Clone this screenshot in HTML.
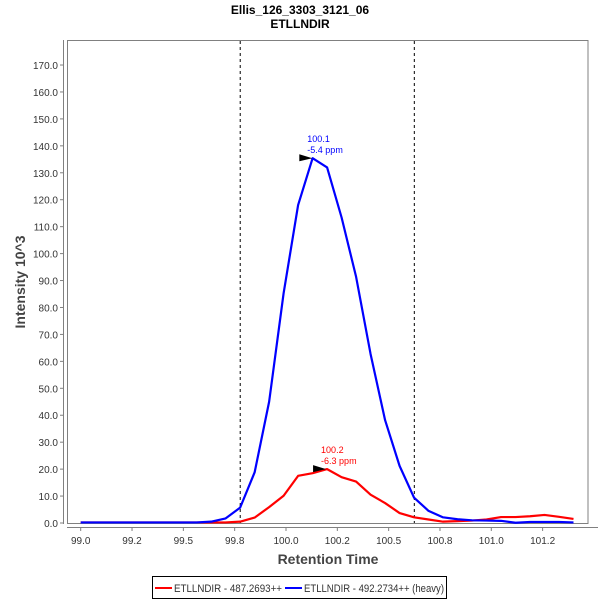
<!DOCTYPE html>
<html><head><meta charset="utf-8"><style>
body{margin:0;background:#fff;}
svg{display:block;font-family:"Liberation Sans",sans-serif;}
</style></head><body>
<svg id="chart" width="600" height="600" viewBox="0 0 600 600">
<text x="300" y="14" text-anchor="middle" font-size="12" font-weight="bold">Ellis_126_3303_3121_06</text>
<text x="300" y="28" text-anchor="middle" font-size="12" font-weight="bold">ETLLNDIR</text>
<rect x="67.5" y="40.5" width="520.5" height="483" fill="#fff" stroke="#808080"/>
<line x1="63.5" y1="40" x2="63.5" y2="524" stroke="#808080"/>
<line x1="67" y1="527.5" x2="598" y2="527.5" stroke="#808080"/>
<g id="yticks"></g><g id="xticks"></g><g id="marks"></g>
<text x="328" y="564" text-anchor="middle" font-size="14" font-weight="bold" fill="#444">Retention Time</text>
<text transform="translate(25,282) rotate(-90)" text-anchor="middle" font-size="14" font-weight="bold" fill="#444">Intensity 10^3</text>
<g>
<rect x="152.5" y="576.5" width="294" height="22" fill="#fff" stroke="#000"/>
<line x1="155" y1="588" x2="172" y2="588" stroke="#f00" stroke-width="2"/>
<text x="174" y="592" font-size="11" fill="#333" textLength="108" lengthAdjust="spacingAndGlyphs">ETLLNDIR - 487.2693++</text>
<line x1="285" y1="588" x2="302" y2="588" stroke="#00f" stroke-width="2"/>
<text x="304" y="592" font-size="11" fill="#333" textLength="140" lengthAdjust="spacingAndGlyphs">ETLLNDIR - 492.2734++ (heavy)</text>
</g>
</svg>
<script>
const times = [];
for (let i = 0; i < 35; i++) times.push(99.0 + i * 0.0706);
const heavyValues = [0.2,0.2,0.2,0.2,0.2,0.2,0.2,0.2,0.2,0.5,1.7,5.7,18.8,45,85.3,118,135.4,132,113.4,91.4,62.7,38.2,21.2,9.4,4.5,2.1,1.4,1.0,0.9,0.8,0.1,0.4,0.4,0.4,0.2];
const lightValues = [0.2,0.2,0.2,0.2,0.2,0.2,0.2,0.2,0.2,0.2,0.2,0.5,2.0,5.9,10.1,17.5,18.5,20.0,17.0,15.4,10.5,7.4,3.7,2.1,1.3,0.5,0.7,0.9,1.3,2.2,2.2,2.5,3.0,2.3,1.5];
const yTicks = [0,10,20,30,40,50,60,70,80,90,100,110,120,130,140,150,160,170];
const xTickValues = [99.0,99.25,99.5,99.75,100.0,100.25,100.5,100.75,101.0,101.25];
const xTickLabels = ["99.0","99.2","99.5","99.8","100.0","100.2","100.5","100.8","101.0","101.2"];
const boundaries = [99.777, 100.625];
const peaks = [{t:100.133, v:135.4, label:"100.1", ppm:"-5.4 ppm", color:"#00f", name:"heavy"},
               {t:100.2, v:20.0, label:"100.2", ppm:"-6.3 ppm", color:"#f00", name:"light"}];
const NS = "http://www.w3.org/2000/svg";
const X = v => 80.7 + (v - 99.0) * 205.3;
const Y = v => 523 - v * 2.694;
function mk(tag, attrs, parent){ const e=document.createElementNS(NS,tag); for(const k in attrs) e.setAttribute(k,attrs[k]); parent.appendChild(e); return e; }
const yt=document.getElementById('yticks'), xt=document.getElementById('xticks'), mg=document.getElementById('marks');
yTicks.forEach(v=>{
  const l=mk('line',{x1:60,x2:63.5,y1:Y(v),y2:Y(v),stroke:'#808080'},yt);
  
  
  const t=mk('text',{x:58,y:Y(v)+4,'text-anchor':'end','font-size':10,fill:'#333'},yt);
  t.textContent=v.toFixed(1);
  
  
});
xTickValues.forEach((v,i)=>{
  const l=mk('line',{x1:X(v),x2:X(v),y1:527.5,y2:531,stroke:'#808080'},xt);
  
  
  const t=mk('text',{x:X(v),y:544,'text-anchor':'middle','font-size':10,fill:'#333'},xt);
  t.textContent=xTickLabels[i];
  
  
});
boundaries.forEach(b=>{
  const l=mk('line',{x1:X(b),x2:X(b),y1:41,y2:523,stroke:'#000','stroke-dasharray':'3,3','stroke-width':1},mg);
  
  
});
function series(vals,color,name){
  const p=mk('polyline',{points:vals.map((v,i)=>X(times[i])+','+Y(v)).join(' '),fill:'none',stroke:color,'stroke-width':2.2,'stroke-linejoin':'round'},mg);
  
  
}
series(lightValues,'#f00','series-light');
series(heavyValues,'#00f','series-heavy');
peaks.forEach(pk=>{
  const x=X(pk.t), y=Y(pk.v);
  const a=mk('polygon',{points:(x-14)+','+(y-4)+' '+(x-1)+','+y+' '+(x-14)+','+(y+3),fill:'#000'},mg);
  
  
  const t1=mk('text',{x:x-6,y:y-16,'font-size':9,fill:pk.color},mg);
  t1.textContent=pk.label;
  
  
  const t2=mk('text',{x:x-6,y:y-5,'font-size':9,fill:pk.color},mg);
  t2.textContent=pk.ppm;
  
  
});
</script>
</body></html>
